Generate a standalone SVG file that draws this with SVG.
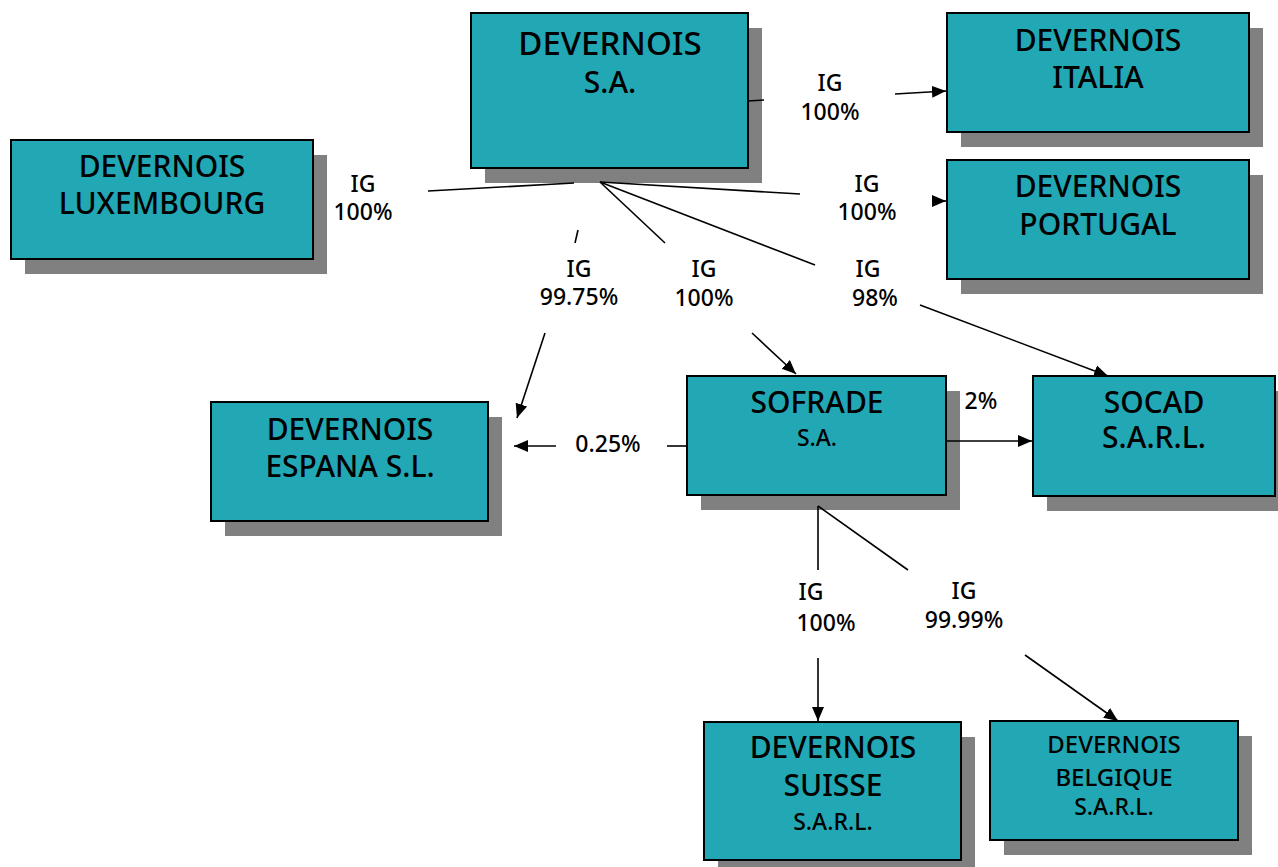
<svg xmlns="http://www.w3.org/2000/svg" width="1278" height="867" viewBox="0 0 1278 867">
<defs>
<style>
.box{fill:#21a8b4;stroke:#000;stroke-width:2}
.sh{fill:#808080}
text{font-family:"Noto Sans","Open Sans","DejaVu Sans",sans-serif;fill:#000;text-anchor:middle;font-weight:500}
.big{font-size:33px}
.mid{font-size:30px}
.sm{font-size:23px}
.bl{font-size:24px}
.lbl{font-size:23px}
.ln{stroke:#000;stroke-width:1.6;fill:none}
</style>
<marker id="ah" markerUnits="userSpaceOnUse" markerWidth="16" markerHeight="16" viewBox="0 0 16 16" refX="14" refY="8" orient="auto">
<path d="M0,2 L14,8 L0,14 Z" fill="#000"/>
</marker>
</defs>
<rect width="1278" height="867" fill="#fff"/>

<g id="devernois-sa">
<rect class="sh" x="485" y="28" width="277" height="155"/>
<rect class="box" x="471" y="13" width="277" height="155"/>
<text class="big" x="610" y="55">DEVERNOIS</text>
<text class="mid" x="610" y="93">S.A.</text>
</g>

<g id="devernois-italia">
<rect class="sh" x="961" y="28" width="302" height="119"/>
<rect class="box" x="947" y="13" width="302" height="119"/>
<text class="mid" x="1098" y="51">DEVERNOIS</text>
<text class="mid" x="1098" y="88">ITALIA</text>
</g>

<g id="devernois-portugal">
<rect class="sh" x="961" y="175" width="302" height="119"/>
<rect class="box" x="947" y="160" width="302" height="119"/>
<text class="mid" x="1098" y="197">DEVERNOIS</text>
<text class="mid" x="1098" y="235">PORTUGAL</text>
</g>

<g id="devernois-luxembourg">
<rect class="sh" x="25" y="155" width="302" height="119"/>
<rect class="box" x="11" y="140" width="302" height="119"/>
<text class="mid" x="162" y="177">DEVERNOIS</text>
<text class="mid" x="162" y="214">LUXEMBOURG</text>
</g>

<g id="devernois-espana">
<rect class="sh" x="225" y="417" width="277" height="119"/>
<rect class="box" x="211" y="402" width="277" height="119"/>
<text class="mid" x="350" y="440">DEVERNOIS</text>
<text class="mid" x="350" y="477">ESPANA S.L.</text>
</g>

<g id="sofrade">
<rect class="sh" x="701" y="391" width="259" height="119"/>
<rect class="box" x="687" y="376" width="259" height="119"/>
<text class="mid" x="817" y="413">SOFRADE</text>
<text class="sm" x="817" y="446">S.A.</text>
</g>

<g id="socad">
<rect class="sh" x="1047" y="391" width="242" height="120"/>
<rect class="box" x="1033" y="376" width="242" height="120"/>
<text class="mid" x="1154" y="413">SOCAD</text>
<text class="mid" x="1154" y="448">S.A.R.L.</text>
</g>

<g id="devernois-suisse">
<rect class="sh" x="718" y="737" width="257" height="138"/>
<rect class="box" x="704" y="722" width="257" height="138"/>
<text class="mid" x="833" y="758">DEVERNOIS</text>
<text class="mid" x="833" y="796">SUISSE</text>
<text class="sm" x="833" y="830">S.A.R.L.</text>
</g>

<g id="devernois-belgique">
<rect class="sh" x="1004" y="736" width="248" height="119"/>
<rect class="box" x="990" y="721" width="248" height="119"/>
<text class="bl" x="1114" y="753">DEVERNOIS</text>
<text class="bl" x="1114" y="786">BELGIQUE</text>
<text class="sm" x="1114" y="815">S.A.R.L.</text>
</g>

<g id="connectors">
<line class="ln" x1="428" y1="191" x2="574" y2="183"/>
<line class="ln" x1="600" y1="182" x2="800" y2="194"/>
<line class="ln" x1="600" y1="182" x2="665" y2="243"/>
<line class="ln" x1="600" y1="182" x2="815" y2="265"/>
<line class="ln" x1="578" y1="230" x2="575" y2="243"/>
<line class="ln" x1="545" y1="333" x2="517" y2="418" marker-end="url(#ah)"/>
<line class="ln" x1="752" y1="333" x2="796" y2="374" marker-end="url(#ah)"/>
<line class="ln" x1="920" y1="305" x2="1108" y2="376" marker-end="url(#ah)"/>
<line class="ln" x1="748" y1="101" x2="764" y2="100"/>
<line class="ln" x1="895" y1="94" x2="946" y2="91" marker-end="url(#ah)"/>
<line class="ln" x1="936" y1="201" x2="946" y2="201" marker-end="url(#ah)"/>
<line class="ln" x1="687" y1="446" x2="667" y2="446"/>
<line class="ln" x1="556" y1="446" x2="514" y2="446" marker-end="url(#ah)"/>
<line class="ln" x1="946" y1="441" x2="1032" y2="441" marker-end="url(#ah)"/>
<line class="ln" x1="818" y1="506" x2="818" y2="570"/>
<line class="ln" x1="818" y1="506" x2="908" y2="570"/>
<line class="ln" x1="818" y1="658" x2="818" y2="721" marker-end="url(#ah)"/>
<line class="ln" x1="1025" y1="655" x2="1118" y2="721" marker-end="url(#ah)"/>
</g>

<g id="labels">
<text class="lbl" x="830" y="91">IG</text><text class="lbl" x="830" y="120">100%</text>
<text class="lbl" x="363" y="192">IG</text><text class="lbl" x="363" y="220">100%</text>
<text class="lbl" x="867" y="192">IG</text><text class="lbl" x="867" y="220">100%</text>
<text class="lbl" x="579" y="277">IG</text><text class="lbl" x="579" y="305">99.75%</text>
<text class="lbl" x="704" y="277">IG</text><text class="lbl" x="704" y="306">100%</text>
<text class="lbl" x="868" y="277">IG</text><text class="lbl" x="875" y="306">98%</text>
<text class="lbl" x="608" y="452">0.25%</text>
<text class="lbl" x="981" y="409">2%</text>
<text class="lbl" x="811" y="600">IG</text><text class="lbl" x="826" y="631">100%</text>
<text class="lbl" x="964" y="599">IG</text><text class="lbl" x="964" y="628">99.99%</text>
</g>
</svg>
